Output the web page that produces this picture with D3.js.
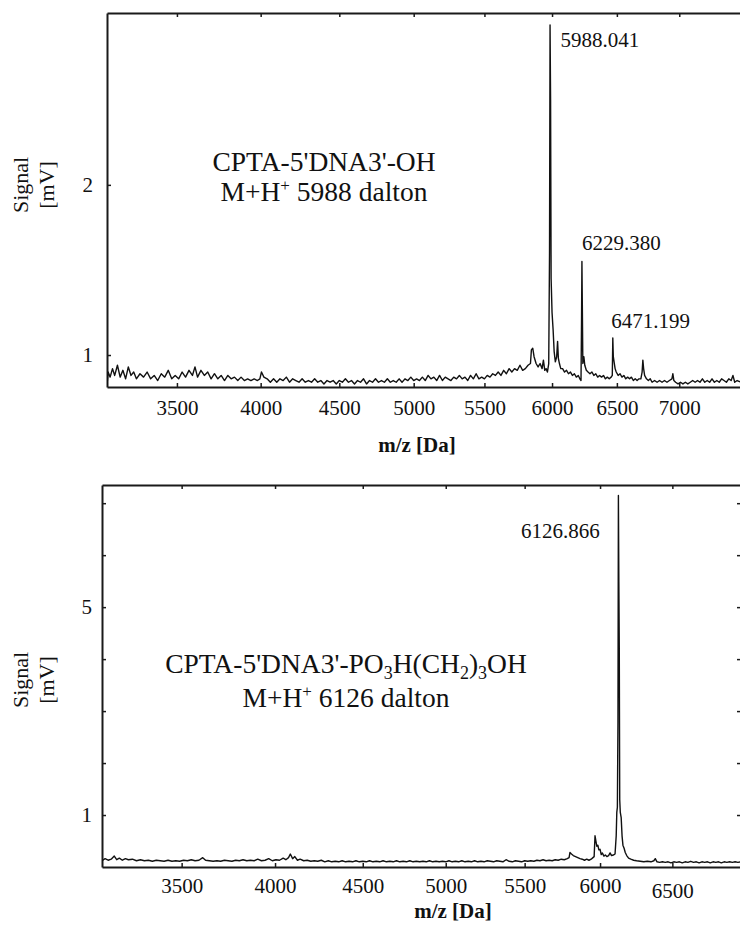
<!DOCTYPE html>
<html>
<head>
<meta charset="utf-8">
<script src="https://cdn.jsdelivr.net/npm/d3@7/dist/d3.min.js"></script>
<style>
  body { margin: 0; background: #fff; }
  svg text { font-family: "Liberation Serif", "Tinos", "DejaVu Serif", serif; fill: #111; }
</style>
</head>
<body>
<div id="chart"></div>
<script>

// ---- data ----
// top spectrum: CPTA-5'DNA3'-OH  [m/z, mV]
var topSpectrum = [
  [3108,0.82],[3114,0.90],[3125,0.87],[3138,0.92],[3150,0.88],[3165,0.94],[3180,0.87],[3195,0.91],[3210,0.86],[3225,0.93],
  [3240,0.88],[3255,0.90],[3270,0.86],[3290,0.89],[3310,0.87],[3330,0.90],[3350,0.86],[3370,0.88],[3390,0.85],[3410,0.89],
  [3430,0.87],[3450,0.91],[3470,0.86],[3490,0.88],[3510,0.86],[3530,0.90],[3550,0.87],[3570,0.91],[3590,0.88],[3605,0.93],
  [3620,0.87],[3640,0.91],[3660,0.88],[3680,0.90],[3700,0.86],[3720,0.89],[3740,0.86],[3760,0.88],[3780,0.85],[3800,0.88],
  [3820,0.86],[3840,0.87],[3860,0.85],[3880,0.87],[3900,0.85],[3920,0.86],[3940,0.85],[3960,0.86],[3980,0.85],[3995,0.86],
  [4005,0.90],[4020,0.87],[4040,0.86],[4060,0.84],[4080,0.86],[4100,0.84],[4120,0.86],[4140,0.85],[4160,0.87],[4180,0.84],
  [4200,0.86],[4220,0.85],[4240,0.84],[4260,0.86],[4280,0.84],[4300,0.85],[4320,0.84],[4340,0.86],[4360,0.84],[4380,0.85],
  [4400,0.83],[4420,0.85],[4440,0.84],[4460,0.85],[4480,0.83],[4500,0.85],[4520,0.84],[4540,0.86],[4560,0.84],[4580,0.85],
  [4600,0.83],[4620,0.85],[4640,0.84],[4660,0.86],[4680,0.83],[4700,0.85],[4720,0.84],[4740,0.86],[4760,0.84],[4780,0.85],
  [4800,0.84],[4820,0.86],[4840,0.84],[4860,0.85],[4880,0.84],[4900,0.86],[4920,0.84],[4940,0.86],[4960,0.85],[4980,0.87],
  [5000,0.85],[5020,0.86],[5040,0.85],[5060,0.87],[5080,0.85],[5100,0.88],[5120,0.86],[5140,0.87],[5160,0.85],[5180,0.88],
  [5200,0.85],[5220,0.87],[5240,0.86],[5260,0.85],[5280,0.87],[5300,0.86],[5320,0.88],[5340,0.86],[5360,0.87],[5380,0.85],
  [5400,0.88],[5420,0.86],[5440,0.89],[5460,0.86],[5480,0.87],[5500,0.86],[5520,0.88],[5540,0.87],[5560,0.89],[5580,0.88],
  [5600,0.90],[5620,0.88],[5640,0.91],[5660,0.89],[5680,0.92],[5700,0.90],[5720,0.92],[5740,0.91],[5760,0.94],[5780,0.91],
  [5800,0.92],[5820,0.94],[5838,0.95],[5845,1.03],[5855,1.04],[5865,0.99],[5880,0.95],[5895,0.93],[5910,0.95],[5925,0.92],
  [5935,0.97],[5945,0.91],[5955,0.92],[5965,0.90],[5975,0.95],[5981,1.6],[5985,2.94],[5989,2.5],[5993,1.45],[6000,1.25],
  [6008,1.15],[6016,1.02],[6025,0.96],[6035,0.99],[6042,1.08],[6048,0.98],[6056,0.95],[6066,0.92],[6080,0.92],[6095,0.90],
  [6110,0.91],[6125,0.89],[6140,0.90],[6155,0.88],[6170,0.89],[6185,0.87],[6200,0.88],[6212,0.86],[6221,0.85],[6225,1.2],
  [6228,1.55],[6231,1.3],[6235,0.95],[6243,0.99],[6250,0.94],[6262,0.91],[6275,0.90],[6290,0.89],[6305,0.90],[6320,0.88],
  [6335,0.89],[6350,0.87],[6365,0.88],[6380,0.87],[6395,0.88],[6410,0.86],[6425,0.87],[6440,0.86],[6455,0.87],[6464,0.88],
  [6468,1.10],[6472,0.99],[6478,0.96],[6486,0.92],[6495,0.90],[6510,0.88],[6525,0.89],[6540,0.87],[6555,0.88],[6570,0.86],
  [6585,0.87],[6600,0.86],[6615,0.87],[6630,0.85],[6645,0.86],[6660,0.85],[6675,0.86],[6690,0.86],[6700,0.90],[6706,0.97],
  [6712,0.92],[6720,0.88],[6735,0.86],[6750,0.85],[6765,0.86],[6780,0.84],[6800,0.85],[6820,0.84],[6840,0.85],[6860,0.84],
  [6880,0.85],[6900,0.84],[6920,0.85],[6940,0.86],[6948,0.89],[6956,0.85],[6970,0.84],[6990,0.83],[7010,0.84],[7030,0.83],
  [7050,0.84],[7070,0.83],[7090,0.84],[7110,0.85],[7130,0.84],[7150,0.85],[7170,0.84],[7190,0.86],[7210,0.84],[7230,0.85],
  [7250,0.84],[7270,0.86],[7290,0.84],[7310,0.85],[7330,0.84],[7350,0.86],[7370,0.85],[7390,0.84],[7410,0.86],[7430,0.85],
  [7445,0.88],[7460,0.84],[7480,0.85],[7513,0.84]
];

// bottom spectrum: CPTA-5'DNA3'-PO3H(CH2)3OH  [m/z, mV]
var bottomSpectrum = [
  [3100,0.12],[3115,0.16],[3130,0.13],[3145,0.15],[3160,0.21],[3172,0.14],[3185,0.17],[3200,0.13],[3215,0.16],[3230,0.14],
  [3250,0.15],[3270,0.12],[3290,0.14],[3310,0.12],[3330,0.13],[3350,0.11],[3370,0.13],[3390,0.12],[3410,0.11],[3430,0.13],
  [3450,0.11],[3470,0.12],[3490,0.11],[3510,0.13],[3530,0.12],[3550,0.14],[3570,0.12],[3590,0.13],[3610,0.18],[3625,0.13],
  [3645,0.12],[3665,0.11],[3685,0.12],[3705,0.11],[3725,0.13],[3745,0.12],[3765,0.11],[3785,0.13],[3805,0.12],[3825,0.14],
  [3845,0.12],[3865,0.13],[3885,0.12],[3905,0.15],[3925,0.12],[3945,0.13],[3965,0.16],[3985,0.12],[4005,0.14],[4025,0.13],
  [4045,0.17],[4060,0.14],[4075,0.18],[4085,0.25],[4098,0.16],[4110,0.20],[4125,0.13],[4140,0.15],[4160,0.12],[4180,0.13],
  [4200,0.11],[4220,0.12],[4240,0.11],[4260,0.13],[4280,0.10],[4300,0.12],[4320,0.10],[4340,0.11],[4360,0.10],[4380,0.12],
  [4400,0.10],[4420,0.11],[4440,0.10],[4460,0.12],[4480,0.10],[4500,0.11],[4520,0.10],[4540,0.12],[4560,0.10],[4580,0.11],
  [4600,0.10],[4620,0.12],[4640,0.10],[4660,0.11],[4680,0.10],[4700,0.12],[4720,0.10],[4740,0.11],[4760,0.10],[4780,0.12],
  [4800,0.10],[4820,0.11],[4840,0.10],[4860,0.11],[4880,0.10],[4900,0.12],[4920,0.10],[4940,0.11],[4960,0.10],[4980,0.11],
  [5000,0.10],[5020,0.12],[5040,0.10],[5060,0.11],[5080,0.10],[5100,0.12],[5120,0.10],[5140,0.11],[5160,0.10],[5180,0.12],
  [5200,0.10],[5220,0.11],[5240,0.10],[5260,0.12],[5280,0.11],[5300,0.10],[5320,0.12],[5340,0.11],[5360,0.10],[5380,0.14],
  [5400,0.11],[5420,0.10],[5440,0.12],[5460,0.11],[5480,0.10],[5500,0.12],[5520,0.11],[5540,0.12],[5560,0.11],[5580,0.13],
  [5600,0.12],[5620,0.14],[5640,0.12],[5660,0.13],[5680,0.12],[5700,0.14],[5720,0.13],[5740,0.15],[5760,0.14],[5780,0.16],
  [5792,0.18],[5798,0.28],[5808,0.25],[5820,0.22],[5835,0.20],[5850,0.18],[5865,0.16],[5880,0.15],[5895,0.13],[5910,0.15],
  [5925,0.13],[5940,0.15],[5952,0.18],[5960,0.20],[5966,0.60],[5972,0.50],[5978,0.40],[5985,0.42],[5992,0.33],[6000,0.34],
  [6008,0.24],[6016,0.27],[6026,0.21],[6036,0.23],[6046,0.20],[6058,0.22],[6068,0.27],[6078,0.22],[6090,0.23],[6102,0.25],
  [6110,0.6],[6114,1.05],[6118,1.15],[6122,2.8],[6125,7.15],[6128,5.5],[6131,4.2],[6134,1.3],[6138,1.05],[6144,0.95],
  [6150,0.6],[6156,0.42],[6164,0.36],[6172,0.28],[6182,0.22],[6195,0.17],[6210,0.15],[6230,0.13],[6250,0.12],[6275,0.11],
  [6300,0.10],[6325,0.11],[6350,0.10],[6370,0.12],[6380,0.16],[6392,0.10],[6410,0.09],[6430,0.10],[6450,0.09],[6470,0.10],
  [6490,0.08],[6510,0.10],[6530,0.09],[6550,0.10],[6570,0.08],[6590,0.10],[6610,0.09],[6630,0.11],[6650,0.09],[6670,0.10],
  [6690,0.08],[6710,0.10],[6730,0.09],[6750,0.10],[6770,0.08],[6790,0.10],[6810,0.09],[6830,0.10],[6850,0.08],[6870,0.10],
  [6890,0.09],[6910,0.10],[6930,0.09],[6950,0.10],[6970,0.09],[6993,0.10]
];

var topXTicks = [3500, 4000, 4500, 5000, 5500, 6000, 6500, 7000];
var topYTicks = [1, 2];
var topPeaks = [5988.041, 6229.380, 6471.199];
var topPeakHeights = [2.94, 1.55, 1.10];

var bottomXTicks = [3500, 4000, 4500, 5000, 5500, 6000, 6500];
var bottomYTicks = [1, 2, 3, 4, 5, 6, 7];
var bottomYLabels = [1, 5];
var bottomPeaks = [6126.866];
var bottomPeakHeights = [7.15];

var width = 740, height = 934;
var serif = '"Liberation Serif", "Tinos", "DejaVu Serif", serif';

var svg = d3.select("#chart").append("svg")
  .attr("width", width)
  .attr("height", height)
  .style("background", "#fff");

// sqrt mass axis (time-of-flight)
function drawPanel(p) {
  var x = d3.scalePow().exponent(0.5).domain(p.xDomain).range([p.left, p.right]);
  var y = d3.scaleLinear().domain(p.yDomain).range([p.bottom, p.top]);

  var g = svg.append("g");

  g.append("clipPath").attr("id", p.id + "-clip")
    .append("rect")
    .attr("x", p.left).attr("y", p.top - 2)
    .attr("width", p.right - p.left).attr("height", p.bottom - p.top + 2);

  // x axis bottom
  var xb = g.append("g")
    .attr("transform", "translate(0," + p.bottom + ")")
    .call(d3.axisBottom(x).tickValues(p.xTicks).tickSizeInner(-4).tickSizeOuter(0)
      .tickPadding(p.xPad).tickFormat(d3.format("d")));
  xb.attr("font-family", serif).attr("font-size", 21);
  if (p.lowTick) {
    xb.selectAll(".tick text").filter(function(d){ return d === p.lowTick; }).attr("dy", "0.95em");
  }

  // top frame with mirrored ticks
  g.append("g")
    .attr("transform", "translate(0," + p.top + ")")
    .call(d3.axisTop(x).tickValues(p.xTicks).tickSizeInner(-4).tickSizeOuter(0).tickFormat(""));

  // y axis
  var yl = g.append("g")
    .attr("transform", "translate(" + p.left + ",0)")
    .call(d3.axisLeft(y).tickValues(p.yTicks).tickSizeInner(-4).tickSizeOuter(0)
      .tickPadding(p.yPad)
      .tickFormat(function(d){ return p.yLabels.indexOf(d) >= 0 ? d : ""; }));
  yl.attr("font-family", serif).attr("font-size", 21);

  if (p.rightTicks) {
    g.append("g")
      .attr("transform", "translate(" + p.right + ",0)")
      .call(d3.axisRight(y).tickValues(p.yTicks).tickSizeInner(-4).tickSizeOuter(0).tickFormat(""));
  }

  g.selectAll(".domain").attr("stroke", "#1a1a1a").attr("stroke-width", 2);
  g.selectAll(".tick line").attr("stroke", "#1a1a1a").attr("stroke-width", 1.5);
  g.selectAll(".tick text").attr("fill", "#111");

  // spectrum trace
  var line = d3.line()
    .x(function(d){ return x(d[0]); })
    .y(function(d){ return y(d[1]); });

  g.append("path")
    .datum(p.data)
    .attr("clip-path", "url(#" + p.id + "-clip)")
    .attr("fill", "none")
    .attr("stroke", "#111")
    .attr("stroke-width", 1.4)
    .attr("stroke-linejoin", "round")
    .attr("d", line);

  // peak labels
  p.peaks.forEach(function(m, i) {
    var off = p.peakOffsets[i];
    g.append("text")
      .attr("x", x(m) + off[0])
      .attr("y", y(p.peakHeights[i]) + off[1])
      .attr("text-anchor", off[2])
      .attr("font-family", serif)
      .attr("font-size", 21)
      .text(m.toFixed(3));
  });

  // axis titles
  g.append("text")
    .attr("x", p.xTitle[0]).attr("y", p.xTitle[1])
    .attr("text-anchor", "middle")
    .attr("font-family", serif)
    .attr("font-size", 21).attr("font-weight", "bold")
    .text("m/z [Da]");

  var yt = g.append("text")
    .attr("transform", "translate(" + p.yTitle[0] + "," + p.yTitle[1] + ") rotate(-90)")
    .attr("text-anchor", "middle")
    .attr("font-family", serif)
    .attr("font-size", 22);
  yt.append("tspan").attr("x", 0).attr("y", 0).text("Signal");
  yt.append("tspan").attr("x", 0).attr("y", 26).text("[mV]");

  // compound annotation
  var a1 = g.append("text")
    .attr("x", p.note[0]).attr("y", p.note[1])
    .attr("text-anchor", "middle")
    .attr("font-family", serif)
    .attr("font-size", 27.5);
  p.noteParts.forEach(function(part) {
    if (part[1] === "sub") {
      a1.append("tspan").attr("dy", 6).attr("font-size", 18).text(part[0]);
    } else if (part[1] === "back") {
      a1.append("tspan").attr("dy", -6).text(part[0]);
    } else {
      a1.append("tspan").text(part[0]);
    }
  });

  var a2 = g.append("text")
    .attr("x", p.note[0]).attr("y", p.note[1] + p.note[2])
    .attr("text-anchor", "middle")
    .attr("font-family", serif)
    .attr("font-size", 27.5);
  a2.append("tspan").text("M+H");
  a2.append("tspan").attr("dy", -10).attr("font-size", 17).text("+");
  a2.append("tspan").attr("dy", 10).text(" " + p.mass + " dalton");
}

drawPanel({
  id: "top",
  data: topSpectrum,
  xDomain: [3108, 7513], yDomain: [0.812, 3.01],
  left: 107, right: 741, top: 13, bottom: 387,
  xTicks: topXTicks, yTicks: topYTicks, yLabels: topYTicks,
  xPad: 13, yPad: 14,
  peaks: topPeaks, peakHeights: topPeakHeights,
  peakOffsets: [[10, 22, "start"], [0, -11, "start"], [-2, -10, "start"]],
  xTitle: [417, 452], yTitle: [28, 185],
  note: [324, 171, 30],
  noteParts: [["CPTA-5'DNA3'-OH", ""]],
  mass: "5988"
});

drawPanel({
  id: "bot",
  data: bottomSpectrum,
  xDomain: [3100, 6993], yDomain: [0, 7.35],
  left: 102, right: 741, top: 485, bottom: 867,
  xTicks: bottomXTicks, yTicks: bottomYTicks, yLabels: bottomYLabels,
  xPad: 11, yPad: 10, lowTick: 6500, rightTicks: true,
  peaks: bottomPeaks, peakHeights: bottomPeakHeights,
  peakOffsets: [[-19, 43, "end"]],
  xTitle: [453, 918], yTitle: [28, 680],
  note: [346, 673, 34],
  noteParts: [["CPTA-5'DNA3'-PO", ""], ["3", "sub"], ["H(CH", "back"], ["2", "sub"], [")", "back"], ["3", "sub"], ["OH", "back"]],
  mass: "6126"
});

</script>
</body>
</html>
